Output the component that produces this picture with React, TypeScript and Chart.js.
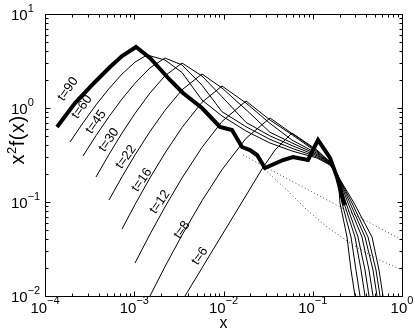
import React, { useEffect, useRef } from 'react';
import { Chart, registerables } from 'chart.js';
Chart.register(...registerables);

// ---- data (x, x^2 f(x)) ----
const t90X = [1.363e-4, 2.169e-4, 3.633e-4, 5.349e-4, 7.291e-4, 1.046e-3, 1.501e-3, 2.515e-3, 3.517e-3, 5.742e-3, 9.136e-3, 1.245e-2, 1.612e-2, 1.982e-2, 2.373e-2, 2.917e-2, 4.642e-2, 6.009e-2, 8.847e-2, 0.1145, 0.1561, 0.187, 0.2183, 0.2298];
const t90Y = [0.628, 1.1302, 1.8912, 2.7305, 3.5742, 4.4565, 3.4033, 1.9865, 1.4442, 1.0, 0.628, 0.5834, 0.3847, 0.3573, 0.3162, 0.2299, 0.2797, 0.3011, 0.2797, 0.4566, 0.2938, 0.1845, 0.105, 0.0929];

const t60X = [1.906e-4, 2.666e-4, 3.728e-4, 5.213e-4, 7.291e-4, 1.02e-3, 1.39e-3, 2.211e-3, 3.428e-3, 5.742e-3, 9.62e-3, 1.787e-2, 3.319e-2, 5.856e-2, 0.1116, 0.1561, 0.1919, 0.2899, 0.4612, 0.5525, 0.6125];
const t60Y = [0.4347, 0.6961, 1.0789, 1.6086, 2.2947, 3.0779, 3.6635, 3.24, 2.3863, 1.2164, 0.8221, 0.5693, 0.4242, 0.3487, 0.2938, 0.2475, 0.189, 0.09758, 0.04242, 0.0189, 0.01];

const t45X = [2.666e-4, 3.728e-4, 5.213e-4, 7.291e-4, 1.02e-3, 1.501e-3, 2.211e-3, 3.428e-3, 5.742e-3, 9.62e-3, 1.787e-2, 3.319e-2, 5.856e-2, 0.1116, 0.1561, 0.1919, 0.2753, 0.416, 0.5112, 0.567];
const t45Y = [0.3085, 0.5086, 0.81, 1.2468, 1.8363, 2.671, 3.4033, 2.868, 1.748, 0.9134, 0.6326, 0.4634, 0.3725, 0.3019, 0.2499, 0.189, 0.09758, 0.04242, 0.0189, 0.01];

const t30X = [3.728e-4, 5.213e-4, 7.291e-4, 1.02e-3, 1.501e-3, 2.211e-3, 3.428e-3, 5.742e-3, 9.62e-3, 1.787e-2, 3.319e-2, 5.856e-2, 0.1116, 0.1561, 0.1919, 0.2615, 0.3851, 0.4733, 0.5246];
const t30Y = [0.1845, 0.3208, 0.5406, 0.8761, 1.4442, 2.201, 3.0108, 2.1901, 1.319, 0.7029, 0.5049, 0.3981, 0.3108, 0.253, 0.189, 0.09758, 0.04242, 0.0189, 0.01];

const t22X = [5.213e-4, 7.291e-4, 1.02e-3, 1.501e-3, 2.211e-3, 3.428e-3, 5.742e-3, 9.62e-3, 1.787e-2, 3.319e-2, 5.856e-2, 0.1116, 0.1561, 0.1919, 0.2483, 0.3563, 0.4269, 0.4733];
const t22Y = [0.105, 0.1854, 0.317, 0.5623, 0.9452, 1.5615, 2.3003, 1.6323, 0.9616, 0.5514, 0.4252, 0.3193, 0.2555, 0.189, 0.09758, 0.04242, 0.0189, 0.01];

const t16X = [7.291e-4, 1.02e-3, 1.501e-3, 2.211e-3, 3.428e-3, 5.742e-3, 9.62e-3, 1.787e-2, 3.319e-2, 5.856e-2, 0.1116, 0.1561, 0.1919, 0.2358, 0.3214, 0.3851, 0.4269];
const t16Y = [0.05161, 0.09407, 0.1809, 0.3321, 0.6203, 1.1497, 1.714, 1.1302, 0.6857, 0.4555, 0.3289, 0.258, 0.189, 0.09758, 0.04242, 0.0189, 0.01];

const t12X = [1.02e-3, 1.501e-3, 2.211e-3, 3.428e-3, 5.742e-3, 9.62e-3, 1.787e-2, 3.319e-2, 5.856e-2, 0.1116, 0.1561, 0.1919, 0.224, 0.2975, 0.3473, 0.3851];
const t12Y = [0.02244, 0.04545, 0.08867, 0.18, 0.3809, 0.7185, 1.187, 0.7454, 0.5199, 0.3378, 0.2606, 0.189, 0.09758, 0.04242, 0.0189, 0.01];

const t8X = [1.501e-3, 2.211e-3, 3.428e-3, 5.742e-3, 9.62e-3, 1.787e-2, 3.319e-2, 5.856e-2, 0.1116, 0.1561, 0.1919, 0.2127, 0.2683, 0.3052, 0.3384];
const t8Y = [0.01, 0.02056, 0.04446, 0.1032, 0.2206, 0.4761, 0.7827, 0.5354, 0.3479, 0.2638, 0.189, 0.09758, 0.04242, 0.0189, 0.01];

const t6X = [3.704e-3, 5.742e-3, 9.62e-3, 1.787e-2, 2.7e-2, 3.776e-2, 5.856e-2, 0.1116, 0.1561, 0.1919, 0.202, 0.242, 0.2683, 0.2975];
const t6Y = [0.01, 0.01986, 0.04457, 0.1173, 0.2244, 0.3573, 0.542, 0.3573, 0.2664, 0.189, 0.09758, 0.04242, 0.0189, 0.01];

const dot1X = [1.654e-2, 1];
const dot1Y = [0.3162, 0.03943];
const dot2X = [2.7e-2, 5.562e-2, 8.622e-2, 0.1444, 0.2615, 0.4733, 1];
const dot2Y = [0.2357, 0.1247, 0.08222, 0.0542, 0.03663, 0.026, 0.0189];

const labelText = ['t=90', 't=60', 't=45', 't=30', 't=22', 't=16', 't=12', 't=8', 't=6'];
const labelX = [1.81e-4, 2.6e-4, 3.73e-4, 5.21e-4, 8.08e-4, 1.22e-3, 1.94e-3, 3.43e-3, 5.45e-3];
const labelY = [1.59, 1.025, 0.71, 0.457, 0.301, 0.1714, 0.1, 0.0504, 0.0266];

const xTicks = [1e-4, 1e-3, 1e-2, 1e-1, 1];
const xTickExp = ['\u22124', '\u22123', '\u22122', '\u22121', '0'];
const yTicks = [1e-2, 1e-1, 1, 10];
const yTickExp = ['\u22122', '\u22121', '0', '1'];

const FONT = '"Liberation Sans", Arial, Helvetica, sans-serif';

function pts(xs: number[], ys: number[]) {
  return xs.map((x, i) => ({ x, y: ys[i] }));
}

const decor = {
  id: 'decor',
  afterDraw(chart: any) {
    const ctx = chart.ctx as CanvasRenderingContext2D;
    const a = chart.chartArea;
    const xs = chart.scales.x;
    const ys = chart.scales.y;
    ctx.save();
    ctx.strokeStyle = '#000';
    ctx.fillStyle = '#000';
    ctx.lineWidth = 1;
    const L = Math.round(a.left) + 0.5;
    const R = Math.round(a.right) + 0.5;
    const T = Math.round(a.top) + 0.5;
    const B = Math.round(a.bottom) + 0.5;
    ctx.beginPath();
    ctx.rect(L, T, R - L, B - T);
    ctx.stroke();
    ctx.beginPath();
    xTicks.forEach((v, k) => {
      for (let m = 1; m <= 9; m++) {
        if (k === xTicks.length - 1 && m > 1) break;
        const p = Math.round(xs.getPixelForValue(v * m)) + 0.5;
        const len = m === 1 ? 5 : 3;
        ctx.moveTo(p, B); ctx.lineTo(p, B - len);
        ctx.moveTo(p, T); ctx.lineTo(p, T + len);
      }
    });
    yTicks.forEach((v, k) => {
      for (let m = 1; m <= 9; m++) {
        if (k === yTicks.length - 1 && m > 1) break;
        const p = Math.round(ys.getPixelForValue(v * m)) + 0.5;
        const len = m === 1 ? 5 : 3;
        ctx.moveTo(L, p); ctx.lineTo(L + len, p);
        ctx.moveTo(R, p); ctx.lineTo(R - len, p);
      }
    });
    ctx.stroke();

    const baseFont = '15px ' + FONT;
    const expFont = '11px ' + FONT;
    ctx.textBaseline = 'alphabetic';
    ctx.textAlign = 'left';
    xTicks.forEach((v, i) => {
      const p = xs.getPixelForValue(v);
      ctx.font = baseFont;
      const w1 = ctx.measureText('10').width;
      ctx.font = expFont;
      const w2 = ctx.measureText(xTickExp[i]).width;
      const x0 = p - (w1 + w2) / 2;
      ctx.font = baseFont;
      ctx.fillText('10', x0, 313);
      ctx.font = expFont;
      ctx.fillText(xTickExp[i], x0 + w1, 304);
    });
    yTicks.forEach((v, i) => {
      const p = ys.getPixelForValue(v);
      ctx.font = baseFont;
      const w1 = ctx.measureText('10').width;
      ctx.fillText('10', 11, p + 6);
      ctx.font = expFont;
      ctx.fillText(yTickExp[i], 11 + w1, p - 2);
    });

    ctx.font = '16px ' + FONT;
    ctx.textAlign = 'center';
    ctx.fillText('x', (a.left + a.right) / 2, 328);

    // y title, rotated
    ctx.save();
    ctx.translate(24, 140);
    ctx.rotate(-Math.PI / 2);
    (ctx as any).letterSpacing = '0.5px';
    const big = '20px ' + FONT;
    const small = '13px ' + FONT;
    ctx.font = big;
    const wx = ctx.measureText('x').width;
    const wf = ctx.measureText('f(x)').width;
    ctx.font = small;
    const w2 = ctx.measureText('2').width;
    const tot = wx + w2 + wf;
    ctx.textAlign = 'left';
    ctx.font = big;
    ctx.fillText('x', -tot / 2, 0);
    ctx.font = small;
    ctx.fillText('2', -tot / 2 + wx, -8);
    ctx.font = big;
    ctx.fillText('f(x)', -tot / 2 + wx + w2, 0);
    ctx.restore();

    ctx.font = '13px ' + FONT;
    ctx.textAlign = 'center';
    ctx.textBaseline = 'middle';
    labelText.forEach((s, i) => {
      const px = xs.getPixelForValue(labelX[i]);
      const py = ys.getPixelForValue(labelY[i]);
      ctx.save();
      ctx.translate(px, py);
      ctx.rotate((-55 * Math.PI) / 180);
      ctx.fillText(s, 0, 0);
      ctx.restore();
    });
    ctx.restore();
  },
};

export default function App() {
  const ref = useRef<HTMLCanvasElement | null>(null);
  useEffect(() => {
    document.body.style.margin = '0';
    const canvas = ref.current as HTMLCanvasElement;
    const thin = (xs: number[], ys: number[]) => ({
      data: pts(xs, ys), showLine: true, borderColor: '#000', borderWidth: 1,
      pointRadius: 0, fill: false, tension: 0,
    });
    const dotted = (xs: number[], ys: number[]) => ({
      data: pts(xs, ys), showLine: true, borderColor: '#444', borderWidth: 1,
      borderDash: [1, 2.5], pointRadius: 0, fill: false, tension: 0,
    });
    const chart = new Chart(canvas, {
      type: 'scatter',
      data: {
        datasets: [
          { data: pts(t90X, t90Y), showLine: true, borderColor: '#000', borderWidth: 4, pointRadius: 0, fill: false, tension: 0 } as any,
          thin(t60X, t60Y), thin(t45X, t45Y), thin(t30X, t30Y), thin(t22X, t22Y),
          thin(t16X, t16Y), thin(t12X, t12Y), thin(t8X, t8Y), thin(t6X, t6Y),
          dotted(dot1X, dot1Y), dotted(dot2X, dot2Y),
        ],
      },
      options: {
        responsive: false,
        animation: false,
        devicePixelRatio: 1,
        events: [],
        layout: { padding: { left: 45, top: 14, right: 13, bottom: 35 } },
        plugins: { legend: { display: false }, tooltip: { enabled: false } },
        scales: {
          x: { type: 'logarithmic', min: 1e-4, max: 1, display: false },
          y: { type: 'logarithmic', min: 0.01, max: 10, display: false },
        },
      } as any,
      plugins: [decor],
    });
    return () => chart.destroy();
  }, []);
  return <canvas ref={ref} width={415} height={331} style={{ display: 'block' }} />;
}
